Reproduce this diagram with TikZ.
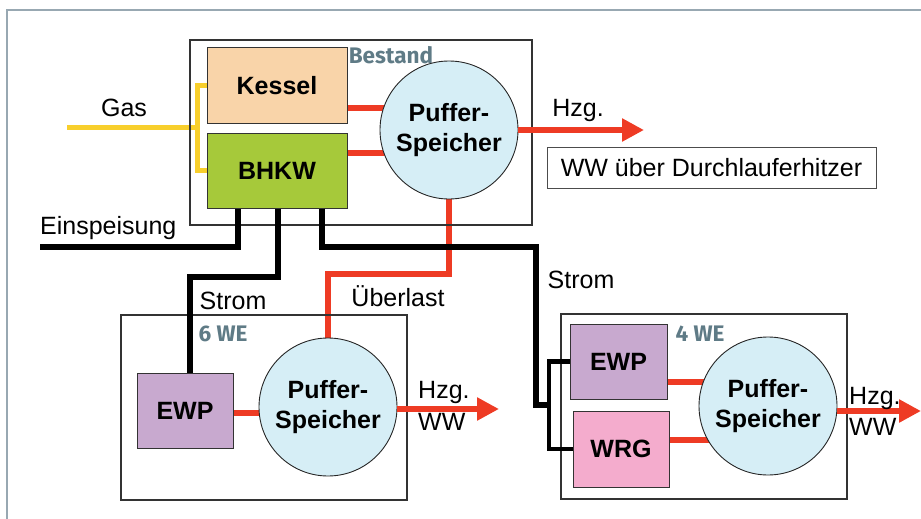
\documentclass[tikz,border=0pt]{standalone}
\usepackage{fontspec}
\setmainfont{Liberation Sans}
\newfontfamily\labfont{Fira Sans}
\usetikzlibrary{arrows.meta,backgrounds,calc}
\definecolor{hotred}{HTML}{EE3B24}
\definecolor{gasyel}{HTML}{F8CF2C}
\definecolor{kesself}{HTML}{F9D4A9}
\definecolor{bhkwf}{HTML}{A6C93A}
\definecolor{ewpf}{HTML}{C8A9CF}
\definecolor{wrgf}{HTML}{F4ACCD}
\definecolor{tankf}{HTML}{D6EEF6}
\definecolor{labc}{HTML}{5F7B86}
\definecolor{framec}{HTML}{98A8B2}
\tikzset{
  txt/.style={font=\fontsize{25}{27}\selectfont, inner sep=0pt},
  unitbox/.style={draw=black!80, line width=1.2pt, inner sep=0pt},
  comp/.style={draw=black!80, line width=1pt, inner sep=0pt, font=\fontsize{25}{27}\selectfont\bfseries},
  tank/.style={circle, draw=black!85, line width=0.9pt, fill=tankf, minimum size=138pt, inner sep=0pt, align=center, font=\fontsize{25}{30.5}\selectfont\bfseries},
  hot/.style={draw=hotred, line width=6pt},
  hotarrow/.style={hot, -{Triangle[length=22pt,width=22pt]}},
  power/.style={draw=black, line width=6pt},
  powerthin/.style={draw=black, line width=4.5pt},
  gasline/.style={draw=gasyel, line width=5pt},
  unitlab/.style={text=labc, font=\labfont\bfseries\fontsize{22.5}{24}\selectfont, inner sep=0pt}
}
\begin{document}
\begin{tikzpicture}[x=1pt,y=-1pt]
\useasboundingbox (0,0) rectangle (921,519);
\draw[framec, line width=2pt] (7,519) -- (7,10) -- (921,10);

% unit frames
\node[unitbox, minimum width=342pt, minimum height=185pt] (bestand) at (361,132.5) {};
\node[unitbox, minimum width=286pt, minimum height=185pt] (we6) at (264,407.5) {};
\node[unitbox, minimum width=286pt, minimum height=185pt] (we4) at (704,406.5) {};

\node[unitlab] (lbest) at (391,55) {Bestand};
\node[unitlab] (l6) at (223,334) {6 WE};
\node[unitlab] (l4) at (700,334) {4 WE};

% components
\node[comp, fill=kesself, minimum width=140pt, minimum height=75pt] (kessel) at (277,85.5) {Kessel};
\node[comp, fill=bhkwf, minimum width=140pt, minimum height=75pt] (bhkw) at (277,170.5) {BHKW};
\node[tank] (p1) at (449,130) {Puffer-\\Speicher};

\node[comp, fill=ewpf, minimum width=96pt, minimum height=75pt] (ewp1) at (185,410.5) {EWP};
\node[tank] (p2) at (328,407) {Puffer-\\Speicher};

\node[comp, fill=ewpf, minimum width=97pt, minimum height=75pt] (ewp2) at (618.5,361.5) {EWP};
\node[comp, fill=wrgf, minimum width=96pt, minimum height=76pt] (wrg) at (621,449) {WRG};
\node[tank] (p3) at (768,406) {Puffer-\\Speicher};

\node[draw=black!70, line width=1pt, minimum width=329pt, minimum height=41pt, inner sep=0pt, font=\fontsize{25}{27}\selectfont] (ww) at (711.5,167.5) {WW über Durchlauferhitzer};

% free ends
\coordinate (gasin) at (67,127);
\coordinate (gasj) at (197,127);
\coordinate (einsp) at (40,247);
\coordinate (s1a) at (278,277);
\coordinate (s1b) at (190,277);
\coordinate (s2a) at (536,247);
\coordinate (s2b) at (536,405);
\coordinate (s2c) at (549,405);
\coordinate (h1) at (644,130);
\coordinate (h2) at (499,409);
\coordinate (h3) at (921,411);
\coordinate (ul) at (449,274);

\begin{scope}[on background layer]
% gas
\draw[gasline] (gasin) -- (gasj);
\draw[gasline] (kessel.west) -| (gasj) |- (bhkw.west);
% heat
\draw[hot] (kessel.east |- 0,108) -- (p1.center |- 0,108);
\draw[hot] (bhkw.east |- 0,153) -- (p1.center |- 0,153);
\draw[hot] (p1.south) -- (ul) -| (p2.north);
\draw[hot] (ewp1.east |- 0,413) -- (p2.center |- 0,413);
\draw[hot] (ewp2.east |- 0,382) -- (p3.center |- 0,382);
\draw[hot] (wrg.east |- 0,440) -- (p3.center |- 0,440);
\end{scope}
\draw[hotarrow] (p1.east) -- (h1);
\draw[hotarrow] (p2.east |- h2) -- (h2);
\draw[hotarrow] (p3.east |- h3) -- (h3);

% power
\draw[power] (einsp) -| (bhkw.south -| 238,0);
\draw[power] (bhkw.south -| s1a) -- (s1a) -- (s1b) -- (ewp1.north -| s1b);
\draw[power] (bhkw.south -| 322,0) |- (s2a) -- (s2b) -- (s2c);
\draw[powerthin] (ewp2.west) -| (s2c) |- (wrg.west);

% labels
\node[txt] (tgas) at (124,108) {Gas};
\node[txt, anchor=west] (teinsp) at (40,228) {Einspeisung};
\node[txt] (tstrom1) at (233,301) {Strom};
\node[txt] (tstrom2) at (581,280) {Strom};
\node[txt] (tueber) at (398,296) {Überlast};
\node[txt] (thzg1) at (578,110) {Hzg.};
\node[txt, anchor=west] (thzg2) at (418,392) {Hzg.};
\node[txt, anchor=west] (tww2) at (418,422) {WW};
\node[txt, anchor=west] (thzg3) at (849,398) {Hzg.};
\node[txt, anchor=west] (tww3) at (849,427) {WW};
\end{tikzpicture}
\end{document}
